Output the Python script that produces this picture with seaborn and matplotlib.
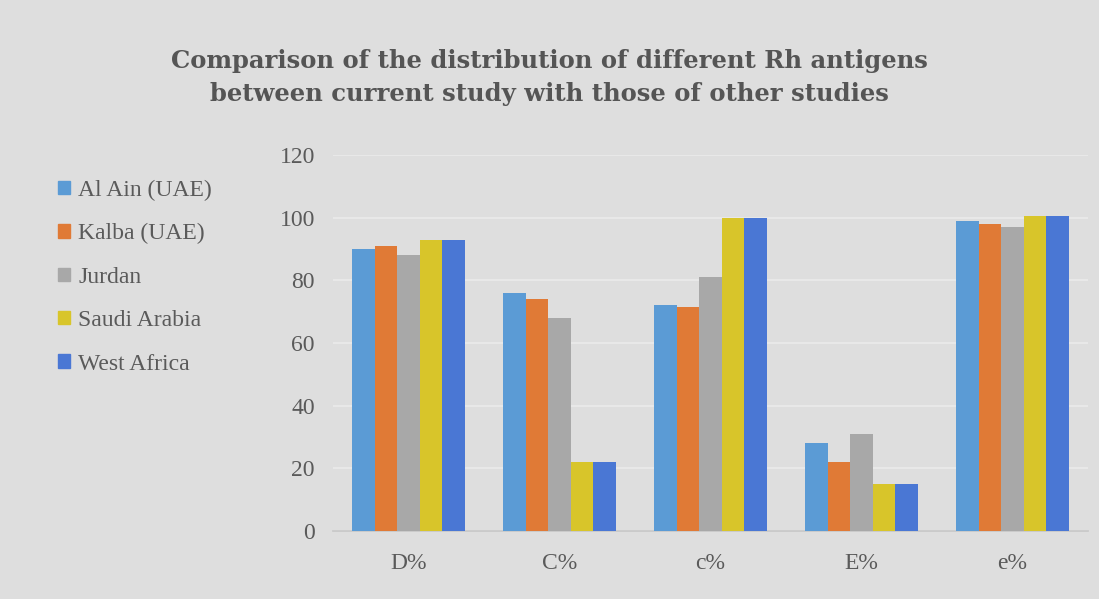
import matplotlib
matplotlib.use("Agg")
import matplotlib.pyplot as plt
import seaborn as sns
import pandas as pd

# Rh antigen frequencies (%) by study population
antigens = ["D%", "C%", "c%", "E%", "e%"]
studies = ["Al Ain (UAE)", "Kalba (UAE)", "Jurdan", "Saudi Arabia", "West Africa"]
al_ain = [90, 76, 72, 28, 99]
kalba = [91, 74, 71.5, 22, 98]
jurdan = [88, 68, 81, 31, 97]
saudi = [93, 22, 100, 15, 100.5]
west_africa = [93, 22, 100, 15, 100.5]
y_ticks = [0, 20, 40, 60, 80, 100, 120]

colors = ["#5b9bd5", "#e07a36", "#a8a8a8", "#d8c52a", "#4a77d4"]
bg = "#dedede"
text_col = "#5a5a5a"

rows = []
for study, vals in zip(studies, [al_ain, kalba, jurdan, saudi, west_africa]):
    for ag, v in zip(antigens, vals):
        rows.append({"antigen": ag, "study": study, "value": v})
df = pd.DataFrame(rows)

sns.set_theme(style="white")
plt.rcParams["font.family"] = ["Liberation Serif", "DejaVu Serif"]

fig = plt.figure(figsize=(10.99, 5.99), dpi=100, facecolor=bg)
ax = fig.add_axes([0.303, 0.1135, 0.687, 0.6275], facecolor=bg)

sns.barplot(data=df, x="antigen", y="value", hue="study", hue_order=studies,
            order=antigens, palette=colors, width=0.75, saturation=1,
            edgecolor="none", ax=ax, legend=False, zorder=3)

ax.set_ylim(0, 120)
ax.set_xlim(-0.5, 4.5)
ax.set_yticks(y_ticks)
ax.set_yticklabels([str(t) for t in y_ticks])
ax.yaxis.grid(True, color="#ebebeb", linewidth=1.2, zorder=0)
ax.set_axisbelow(True)
for s in ["top", "right", "left"]:
    ax.spines[s].set_visible(False)
ax.spines["bottom"].set_color("#c8c8c8")
ax.tick_params(axis="both", length=0, labelsize=17, colors=text_col)
ax.tick_params(axis="y", pad=13)
ax.tick_params(axis="x", pad=16)
ax.set_xlabel("")
ax.set_ylabel("")

fig.text(0.5, 0.871, "Comparison of the distribution of different Rh antigens\n"
         "between current study with those of other studies",
         ha="center", va="center", fontsize=17.5, fontweight="bold",
         family=["DejaVu Serif"], color="#555555", linespacing=1.45)

handles = [plt.Rectangle((0, 0), 1, 1, color=c) for c in colors]
leg = fig.legend(handles, studies, loc="upper left", bbox_to_anchor=(0.042, 0.72),
                 frameon=False, fontsize=17, handlelength=0.5, handleheight=0.5,
                 handletextpad=0.35, labelspacing=0.95, borderpad=0,
                 labelcolor=text_col)

fig.savefig("out.png", dpi=100, facecolor=bg)
